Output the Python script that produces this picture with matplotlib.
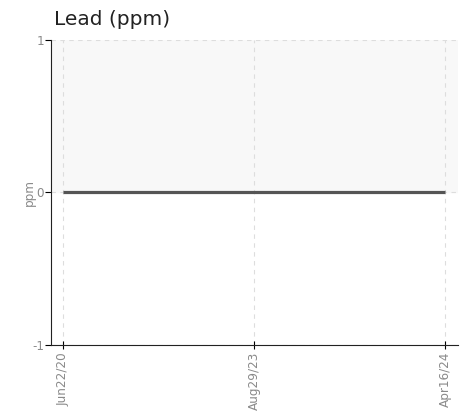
import matplotlib.pyplot as plt
from matplotlib import font_manager

dates = ["Jun22/20", "Aug29/23", "Apr16/24"]
values = [0, 0, 0]
yticks = [-1, 0, 1]

condensed = [f.name for f in font_manager.fontManager.ttflist
             if "ondensed" in f.fname or "arrow" in f.fname]
tick_font = condensed[0] if condensed else "DejaVu Sans"

fig = plt.figure(figsize=(4.66, 4.11), dpi=100)
ax = fig.add_axes([0.1094, 0.1606, 0.8736, 0.7421])

x = list(range(len(dates)))
ax.axhspan(0, 1, color="#f8f8f8", zorder=0)
ax.plot(x, values, color="#555555", lw=2.3, zorder=3, solid_capstyle="butt")

ax.set_xlim(-0.063, 2.068)
ax.set_ylim(-1, 1)
ax.set_xticks(x)
tfont = dict(fontfamily=tick_font, fontstretch="condensed", fontsize=9.6, color="#8a8a8a")
ax.set_xticklabels(dates, rotation=90, **tfont)
ax.set_yticks(yticks)
ax.set_yticklabels([str(v) for v in yticks], **tfont)
ax.tick_params(axis="x", direction="inout", length=6, width=0.8, pad=2)
ax.tick_params(axis="y", direction="out", length=4, width=0.8, pad=1)

ax.grid(True, linestyle=(0, (4, 4)), color="#dddddd", lw=0.8)
ax.set_axisbelow(True)
for s in ["top", "right"]:
    ax.spines[s].set_visible(False)
ax.spines["left"].set_color("#222222")
ax.spines["bottom"].set_color("#222222")

ax.set_ylabel("ppm", labelpad=-3, **tfont)
fig.text(0.116, 0.953, "Lead (ppm)", fontsize=14.5, color="#222222", ha="left", va="center")

fig.savefig("out.png", dpi=100)
